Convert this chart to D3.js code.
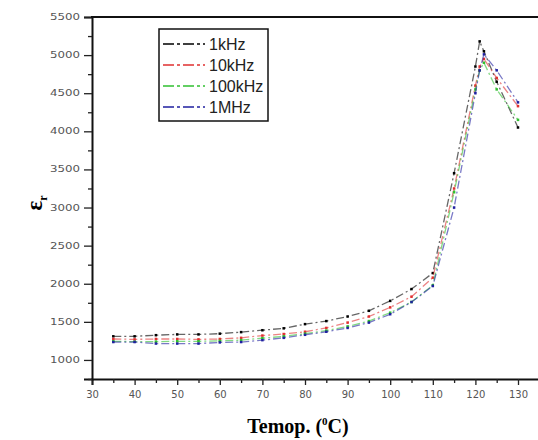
<!DOCTYPE html>
<html><head><meta charset="utf-8">
<script src="https://cdn.jsdelivr.net/npm/d3@7"></script>
<style>body{margin:0;background:#fff}svg{display:block}</style>
</head><body>
<script>
const temps = [35,40,45,50,55,60,65,70,75,80,85,90,95,100,105,110,115,120,121,122,125,130];
const s1kHz   = [1310,1310,1325,1335,1335,1345,1365,1390,1415,1470,1510,1570,1645,1775,1930,2140,3450,4850,5180,5050,4650,4050];
const s10kHz  = [1275,1270,1275,1275,1270,1275,1290,1320,1340,1370,1420,1490,1570,1690,1830,2080,3250,4600,4850,4950,4700,4330];
const s100kHz = [1245,1240,1240,1245,1245,1250,1260,1285,1310,1345,1385,1440,1510,1620,1760,1980,3200,4550,4800,4900,4550,4150];
const s1MHz   = [1235,1235,1215,1215,1215,1230,1235,1260,1290,1330,1370,1420,1490,1600,1760,1970,3000,4500,4800,5010,4800,4380];
const seriesNames = ["1kHz","10kHz","100kHz","1MHz"];
const seriesVals = [s1kHz, s10kHz, s100kHz, s1MHz];
const seriesColors = ["#000000","#e03030","#30c030","#2020a0"];
const xTicks = [30,40,50,60,70,80,90,100,110,120,130];
const yTicks = [1000,1500,2000,2500,3000,3500,4000,4500,5000,5500];

const W=538,H=440;
const svg=d3.select("body").append("svg").attr("width",W).attr("height",H);
const x=d3.scaleLinear().domain([30,135]).range([92,539.3]);
const y=d3.scaleLinear().domain([750,5500]).range([379,17]);

svg.append("clipPath").attr("id","clip").append("rect")
  .attr("x",92).attr("y",17).attr("width",W-92).attr("height",362);

// series
const line=d3.line().x(d=>x(d[0])).y(d=>y(d[1]));
const g=svg.append("g").attr("clip-path","url(#clip)");
seriesVals.forEach((vals,i)=>{
  const pts=temps.map((t,j)=>[t,vals[j]]);
  g.append("path").datum(pts).attr("d",line).attr("fill","none")
    .attr("stroke",seriesColors[i]).attr("stroke-width",1.3)
    .attr("stroke-dasharray","8,3,2,3").attr("stroke-opacity",0.6);
  g.selectAll(null).data(pts).enter().append("rect")
    .attr("x",d=>x(d[0])-1.25).attr("y",d=>y(d[1])-1.25)
    .attr("width",2.5).attr("height",2.5).attr("fill",seriesColors[i]);
});

// axes
const xAxis=d3.axisBottom(x).tickValues(xTicks).tickSize(6).tickPadding(6).tickFormat(d3.format("d"));
const xMinor=d3.axisBottom(x).tickValues(d3.range(35,135,10)).tickSize(4).tickFormat("");
const yAxis=d3.axisLeft(y).tickValues(yTicks).tickSize(8).tickPadding(4).tickFormat(d3.format("d"));
const yMinor=d3.axisLeft(y).tickValues(d3.range(750,5500,500)).tickSize(4).tickFormat("");

const gx=svg.append("g").attr("transform","translate(0,379)").call(xAxis);
svg.append("g").attr("transform","translate(0,379)").call(xMinor).select(".domain").remove();
const gy=svg.append("g").attr("transform","translate(92,0)").call(yAxis);
svg.append("g").attr("transform","translate(92,0)").call(yMinor).select(".domain").remove();
[gx,gy].forEach(a=>{
  a.select(".domain").attr("stroke-width",2).attr("stroke","#111");
  a.selectAll("text").attr("fill","#555").attr("font-family","DejaVu Sans, sans-serif");
});
svg.selectAll(".tick line").attr("stroke","#222").attr("stroke-width",1.3);
gx.selectAll("text").attr("font-size",10);
gy.selectAll("text").attr("font-size",8).attr("textLength",30).attr("lengthAdjust","spacingAndGlyphs");
// top frame
svg.append("line").attr("x1",91).attr("x2",W).attr("y1",17).attr("y2",17)
  .attr("stroke","#111").attr("stroke-width",2);

// axis titles
const yt=svg.append("text").attr("transform","translate(42,203) rotate(-90)")
  .attr("text-anchor","middle").attr("font-family","Liberation Serif, Times New Roman, serif")
  .attr("font-weight","bold").attr("font-size",23);
yt.append("tspan").text("ε");
yt.append("tspan").attr("font-size",12).attr("dy",5).text("r");

const xt=svg.append("text").attr("x",298).attr("y",433).attr("text-anchor","middle")
  .attr("font-family","Liberation Serif, Times New Roman, serif").attr("font-weight","bold").attr("font-size",20);
xt.append("tspan").text("Temop. (");
xt.append("tspan").attr("font-size",11).attr("dy",-8).text("0");
xt.append("tspan").attr("dy",8).text("C)");

// legend
const lg=svg.append("g");
lg.append("rect").attr("x",159).attr("y",29).attr("width",109).attr("height",92)
  .attr("fill","#fff").attr("stroke","#111").attr("stroke-width",1.5);
const ly=[44,65,86,107];
seriesNames.forEach((n,i)=>{
  lg.append("line").attr("x1",163).attr("x2",205).attr("y1",ly[i]).attr("y2",ly[i])
    .attr("stroke",seriesColors[i]).attr("stroke-width",1.5).attr("stroke-dasharray","11,3,3,3");
  lg.append("text").attr("x",209).attr("y",ly[i]+6).attr("font-family","Liberation Sans, Arial, sans-serif")
    .attr("font-size",16).attr("fill","#222").text(n);
});
</script>
</body></html>
